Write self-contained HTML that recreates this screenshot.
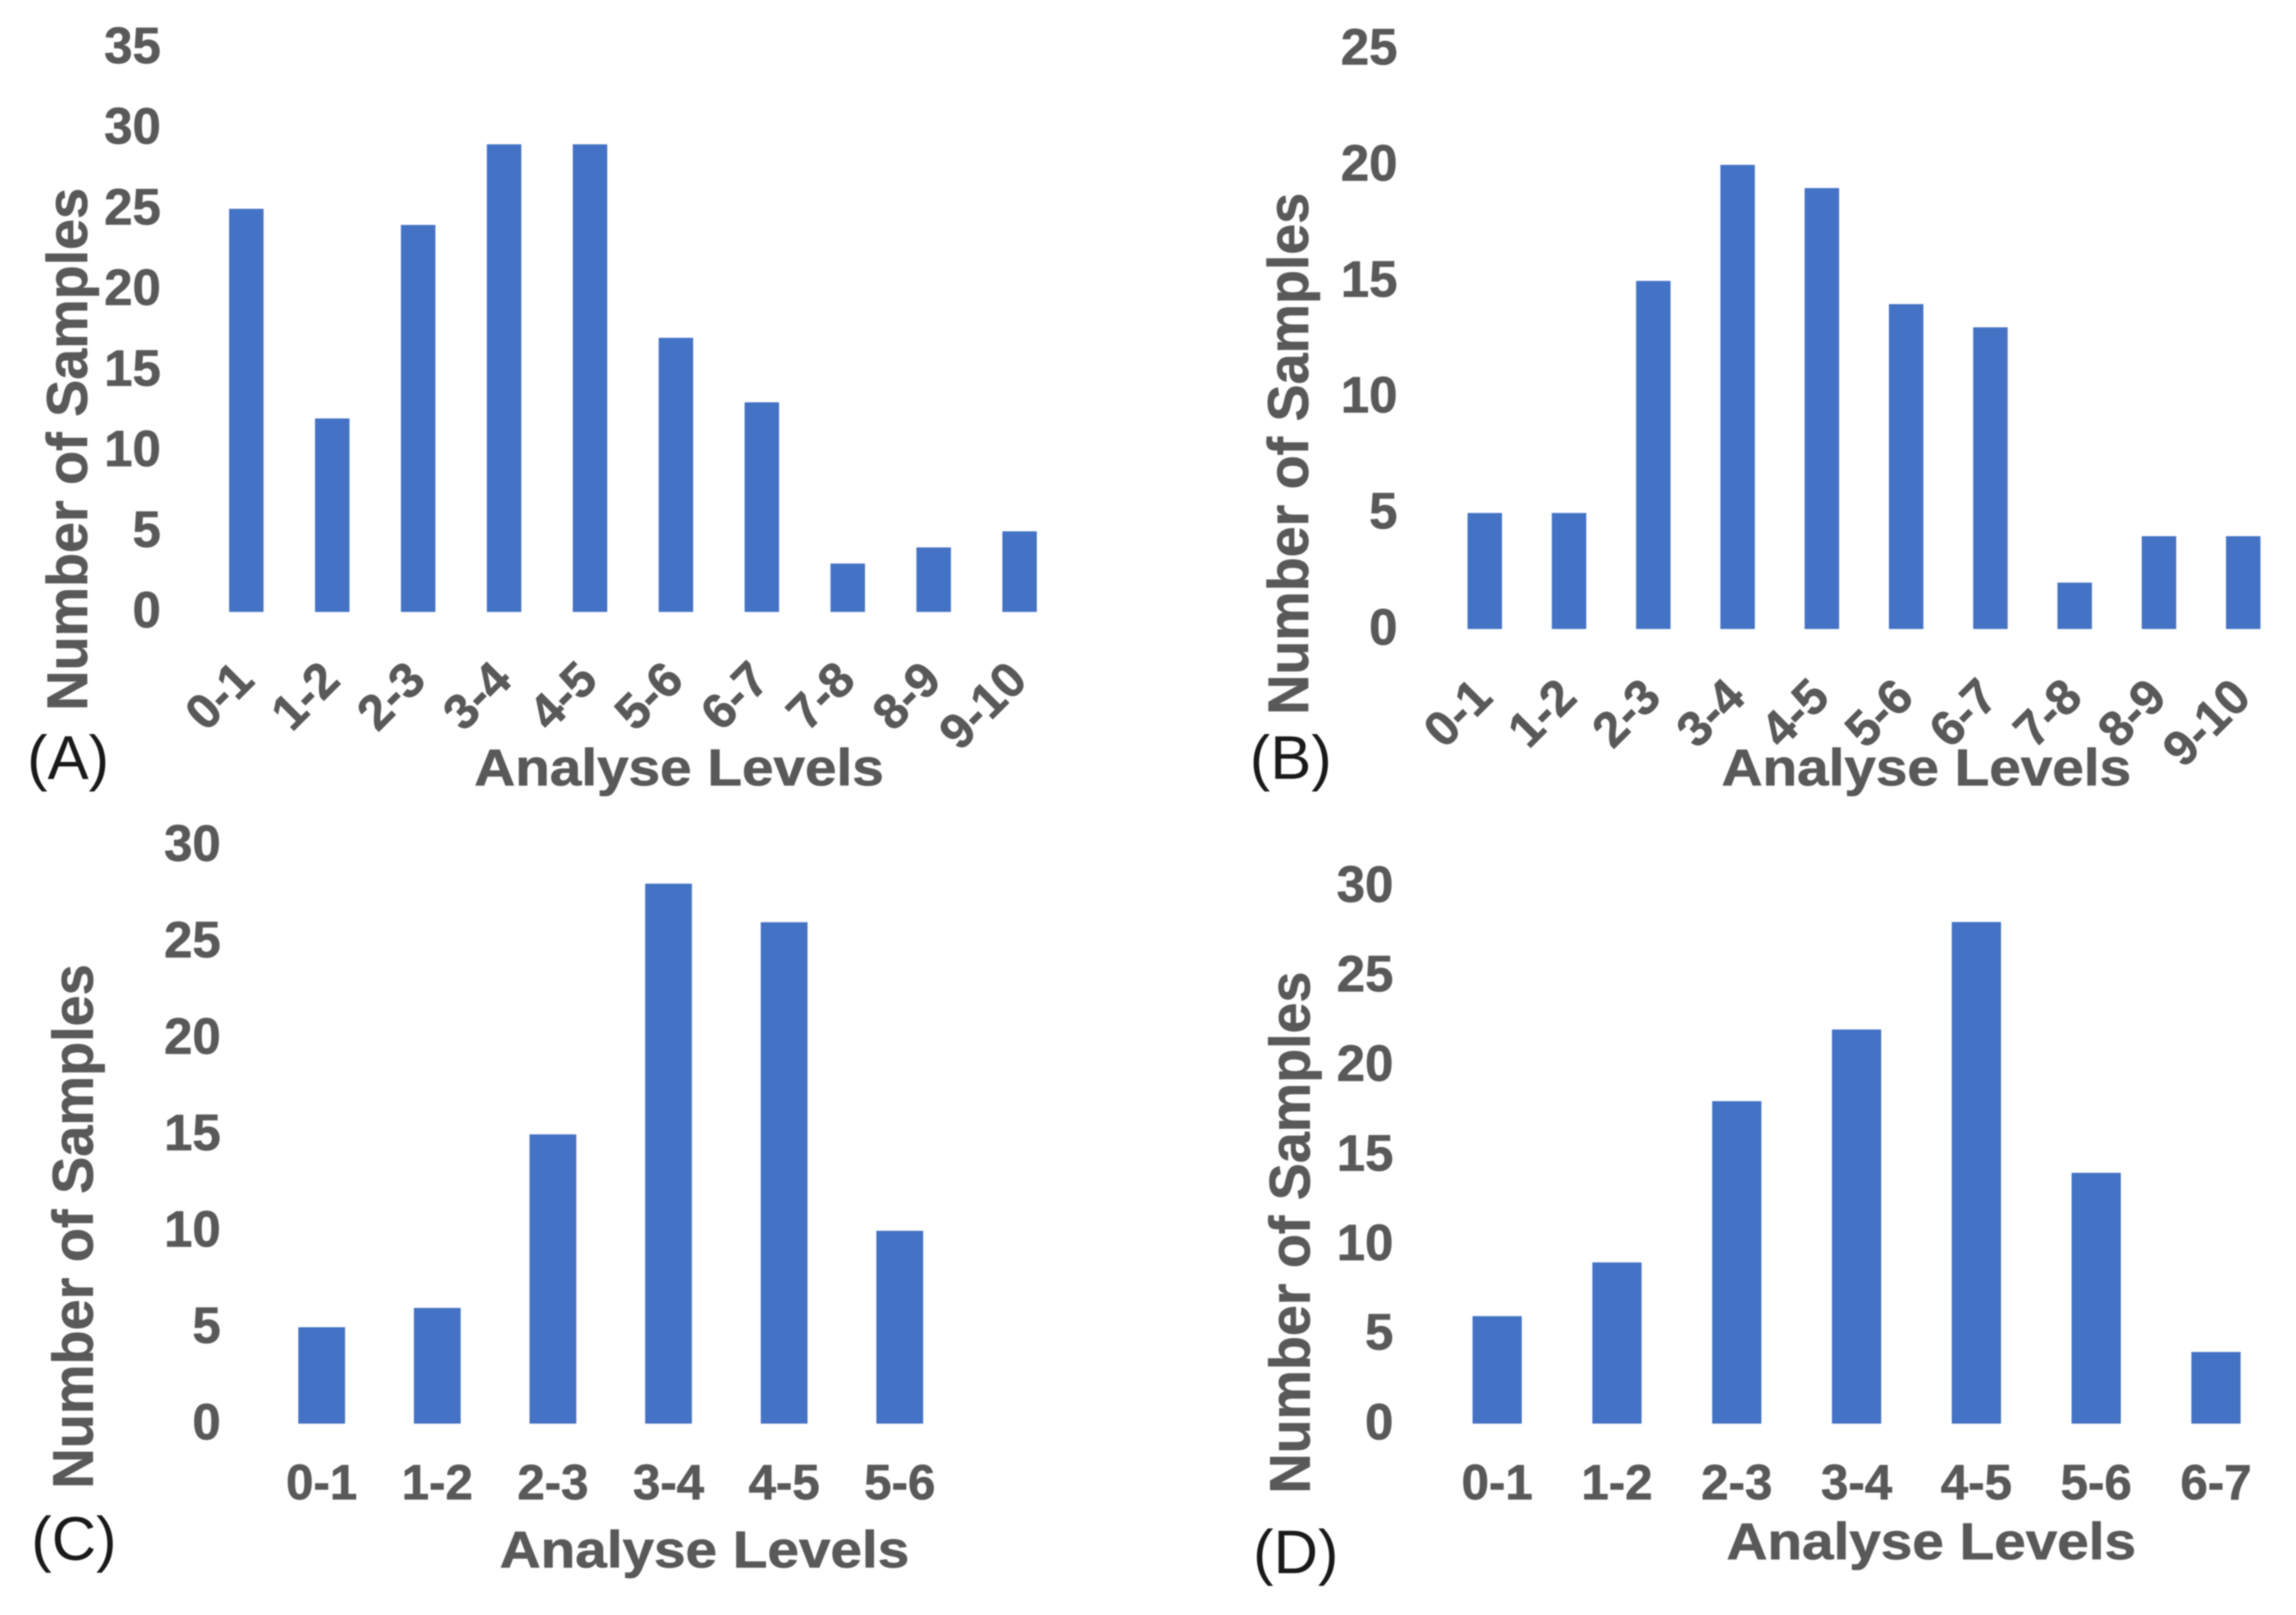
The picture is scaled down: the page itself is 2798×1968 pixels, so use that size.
<!DOCTYPE html>
<html lang="en">
<head>
<meta charset="utf-8">
<title>Analyse Levels histograms</title>
<style>
html,body{margin:0;padding:0;background:#fff;}
svg{display:block;filter:blur(0.7px);}
text{font-family:"Liberation Sans",sans-serif;}
.tick{font-weight:700;font-size:62px;fill:#595959;stroke:#595959;stroke-width:0.8px;}
.axis-title{font-weight:700;fill:#595959;stroke:#595959;stroke-width:0.8px;}
.panel{font-size:75px;fill:#1a1a1a;}
.bar{fill:#4472C4;}
</style>
</head>
<body>
<svg id="figure" xmlns="http://www.w3.org/2000/svg" width="2798" height="1968" viewBox="0 0 2798 1968">
<rect width="2798" height="1968" fill="#ffffff"/>
</svg>
<script>
var categoriesA = ["0-1","1-2","2-3","3-4","4-5","5-6","6-7","7-8","8-9","9-10"];
var valuesA = [25,12,24,29,29,17,13,3,4,5];
var ticksA = [0,5,10,15,20,25,30,35];

var categoriesB = ["0-1","1-2","2-3","3-4","4-5","5-6","6-7","7-8","8-9","9-10"];
var valuesB = [5,5,15,20,19,14,13,2,4,4];
var ticksB = [0,5,10,15,20,25];

var categoriesC = ["0-1","1-2","2-3","3-4","4-5","5-6"];
var valuesC = [5,6,15,28,26,10];
var ticksC = [0,5,10,15,20,25,30];

var categoriesD = ["0-1","1-2","2-3","3-4","4-5","5-6","6-7"];
var valuesD = [6,9,18,22,28,14,4];
var ticksD = [0,5,10,15,20,25,30];

var NS = "http://www.w3.org/2000/svg";
var figure = document.getElementById("figure");

function drawPanel(id, categories, values, ticks, g) {
  var group = document.createElementNS(NS, "g");
  
  
  figure.appendChild(group);

  function xCenter(i) { return g.c0 + g.step * i; }
  function yPos(v) { return g.base - g.unit * v; }

  values.forEach(function (v, i) {
    var r = document.createElementNS(NS, "rect");
    
    
    r.setAttribute("class", "bar");
    r.setAttribute("x", xCenter(i) - g.barW / 2);
    r.setAttribute("y", yPos(v));
    r.setAttribute("width", g.barW);
    r.setAttribute("height", yPos(0) - yPos(v));
    group.appendChild(r);
  });

  ticks.forEach(function (t) {
    var n = document.createElementNS(NS, "text");
    
    
    n.setAttribute("class", "tick");
    n.setAttribute("x", g.tickRight);
    n.setAttribute("y", yPos(t) + 19);
    n.setAttribute("text-anchor", "end");
    n.textContent = t;
    group.appendChild(n);
  });

  categories.forEach(function (c, i) {
    var l = document.createElementNS(NS, "text");
    
    
    l.setAttribute("class", "tick");
    if (g.rotated) {
      var X = xCenter(i) + 12, Y = g.base + 86;
      l.setAttribute("x", X);
      l.setAttribute("y", Y);
      l.setAttribute("text-anchor", "end");
      l.setAttribute("transform", "rotate(-45 " + X + " " + Y + ")");
      l.setAttribute("style", "font-size:60px");
    } else {
      l.setAttribute("x", xCenter(i));
      l.setAttribute("y", g.xLabelY);
      l.setAttribute("text-anchor", "middle");
      l.setAttribute("style", "font-size:60px");
    }
    l.textContent = c;
    group.appendChild(l);
  });

  var yt = document.createElementNS(NS, "text");
  
  
  yt.setAttribute("class", "axis-title");
  yt.setAttribute("style", "font-size:70px");
  yt.setAttribute("x", 0);
  yt.setAttribute("y", 0);
  yt.setAttribute("textLength", g.yTitleLen);
  yt.setAttribute("lengthAdjust", "spacingAndGlyphs");
  yt.setAttribute("transform", "translate(" + g.yTitleX + " " + g.yTitleY + ") rotate(-90)");
  yt.textContent = "Number of Samples";
  group.appendChild(yt);

  var xt = document.createElementNS(NS, "text");
  
  
  xt.setAttribute("class", "axis-title");
  xt.setAttribute("style", "font-size:63px");
  xt.setAttribute("x", g.xTitleX);
  xt.setAttribute("y", g.xTitleY);
  xt.setAttribute("textLength", 499);
  xt.setAttribute("lengthAdjust", "spacingAndGlyphs");
  xt.textContent = "Analyse Levels";
  group.appendChild(xt);

  var p = document.createElementNS(NS, "text");
  
  
  p.setAttribute("class", "panel");
  p.setAttribute("x", g.panelX);
  p.setAttribute("y", g.panelY);
  p.textContent = "(" + id + ")";
  group.appendChild(p);
}

drawPanel("A", categoriesA, valuesA, ticksA, {
  c0: 300.2, step: 104.7, barW: 42, base: 745.7, unit: 19.65, tickRight: 196, rotated: true,
  yTitleX: 106, yTitleY: 866, yTitleLen: 637, xTitleX: 578, xTitleY: 957, panelX: 33, panelY: 949
});
drawPanel("B", categoriesB, valuesB, ticksB, {
  c0: 1809.4, step: 102.7, barW: 42, base: 766.5, unit: 28.28, tickRight: 1703, rotated: true,
  yTitleX: 1594, yTitleY: 871, yTitleLen: 636, xTitleX: 2098, xTitleY: 957, panelX: 1523, panelY: 949
});
drawPanel("C", categoriesC, valuesC, ticksC, {
  c0: 392, step: 140.9, barW: 57, base: 1734.8, unit: 23.5, tickRight: 269, rotated: false, xLabelY: 1827,
  yTitleX: 113, yTitleY: 1814, yTitleLen: 639, xTitleX: 609, xTitleY: 1910, panelX: 38, panelY: 1901
});
drawPanel("D", categoriesD, valuesD, ticksD, {
  c0: 1824.5, step: 146, barW: 60, base: 1734.8, unit: 21.83, tickRight: 1698, rotated: false, xLabelY: 1827,
  yTitleX: 1596, yTitleY: 1820, yTitleLen: 636, xTitleX: 2104, xTitleY: 1900, panelX: 1527, panelY: 1917
});
</script>
</body>
</html>
